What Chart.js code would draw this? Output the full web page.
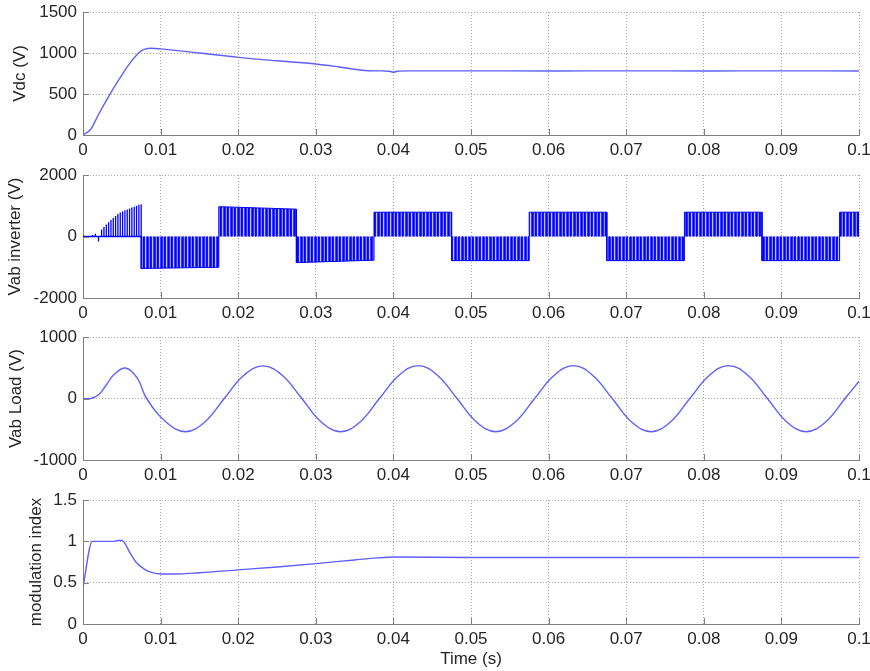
<!DOCTYPE html>
<html>
<head>
<meta charset="utf-8">
<script src="https://cdn.jsdelivr.net/npm/chart.js@4/dist/chart.umd.min.js"></script>
<style>
  body { margin: 0; background: #fff; width: 870px; height: 671px; overflow: hidden; position: relative; }
  canvas { position: absolute; left: 0; }
</style>
</head>
<body>
<canvas id="c1" width="870" height="160"></canvas>
<canvas id="c2" width="870" height="160"></canvas>
<canvas id="c3" width="870" height="160"></canvas>
<canvas id="c4" width="870" height="180"></canvas>
<script>
// time axis ticks (s)
const timeTicks = [0, 0.01, 0.02, 0.03, 0.04, 0.05, 0.06, 0.07, 0.08, 0.09, 0.1];

// Vdc (V)
const vdcT = [0, 0.001, 0.002, 0.003, 0.004, 0.005, 0.006, 0.007, 0.0075, 0.008, 0.0087, 0.01, 0.015, 0.02, 0.025, 0.03, 0.033, 0.036, 0.038, 0.0395, 0.04, 0.0405, 0.042, 0.05, 0.06, 0.07, 0.08, 0.09, 0.1];
const vdcV = [0, 70, 250, 420, 580, 730, 870, 985, 1025, 1048, 1058, 1050, 1000, 947, 905, 866, 830, 790, 782, 778, 765, 778, 782, 782, 781, 782, 781, 782, 781];

// Vab inverter (V): start-up pulses, then half-cycle PWM blocks
const spikeT = [0.0008, 0.0012, 0.0016, 0.002, 0.0024, 0.0027, 0.003, 0.0033, 0.0036, 0.0039, 0.0042, 0.0045, 0.0048, 0.0051, 0.0054, 0.0057, 0.006, 0.0063, 0.0066, 0.0069, 0.0072, 0.0075];
const spikeV = [20, 50, 90, -160, 230, 310, 390, 460, 540, 610, 670, 730, 780, 820, 850, 880, 910, 940, 970, 1000, 1030, 1050];
const blockStart = [0.0075, 0.0175, 0.0275, 0.0375, 0.0475, 0.0575, 0.0675, 0.0775, 0.0875, 0.0975];
const blockEnd = [0.0175, 0.0275, 0.0375, 0.0475, 0.0575, 0.0675, 0.0775, 0.0875, 0.0975, 0.1];
const blockFrom = [-1040, 970, -850, 790, -785, 790, -785, 790, -785, 790];
const blockTo = [-1000, 890, -770, 790, -785, 790, -785, 790, -785, 790];

// Vab Load (V)
const loadT = [0, 0.001, 0.002, 0.003, 0.004, 0.0055, 0.007, 0.0082, 0.0107, 0.0132, 0.0157, 0.0182, 0.0207, 0.0232, 0.0257, 0.0282, 0.0307, 0.0332, 0.0357, 0.0382, 0.0407, 0.0432, 0.0457, 0.0482, 0.0507, 0.0532, 0.0557, 0.0582, 0.0607, 0.0632, 0.0657, 0.0682, 0.0707, 0.0732, 0.0757, 0.0782, 0.0807, 0.0832, 0.0857, 0.0882, 0.0907, 0.0932, 0.0957, 0.0982, 0.1];
const loadV = [0, 0, 60, 220, 390, 495, 330, 0, -382, -540, -382, 0, 375, 530, 375, 0, -382, -540, -382, 0, 375, 535, 375, 0, -382, -540, -382, 0, 375, 535, 375, 0, -382, -540, -382, 0, 375, 535, 375, 0, -382, -540, -382, 0, 280];

// modulation index
const miT = [0, 0.0012, 0.002, 0.003, 0.004, 0.0045, 0.005, 0.0053, 0.006, 0.0069, 0.0078, 0.0086, 0.01, 0.012, 0.015, 0.02, 0.025, 0.03, 0.035, 0.038, 0.04, 0.05, 0.06, 0.07, 0.08, 0.09, 0.1];
const miV = [0.45, 1.0, 1.0, 1.0, 1.0, 1.01, 1.01, 0.99, 0.87, 0.74, 0.67, 0.63, 0.605, 0.605, 0.62, 0.655, 0.69, 0.73, 0.775, 0.8, 0.81, 0.805, 0.805, 0.805, 0.805, 0.805, 0.805];

const FONT = { family: '"Liberation Sans", Arial, sans-serif', size: 17 };
const TEXT = "#262626";
const AXIS = "#7f7f7f";
const GRID = "#a8a8a8";
const LINE = "rgb(95,95,255)";

function pts(xs, ys) {
  return xs.map((x, i) => ({ x: x, y: ys[i] }));
}

// ticks drawn inside the axes, matlab style
const inTicks = {
  id: "inTicks",
  afterDraw(chart) {
    const { ctx, chartArea: a, scales: { x, y } } = chart;
    ctx.save();
    ctx.strokeStyle = AXIS;
    ctx.lineWidth = 1;
    ctx.beginPath();
    x.ticks.forEach(t => {
      const px = Math.round(x.getPixelForValue(t.value)) + 0.5;
      ctx.moveTo(px, a.bottom);
      ctx.lineTo(px, a.bottom - 6);
    });
    y.ticks.forEach(t => {
      const py = Math.round(y.getPixelForValue(t.value)) + 0.5;
      ctx.moveTo(a.left, py);
      ctx.lineTo(a.left + 6, py);
    });
    ctx.stroke();
    ctx.restore();
  }
};

function stripes() {
  const c = document.createElement("canvas");
  c.width = 7; c.height = 1;
  const g = c.getContext("2d");
  ["#0000ff", "#2a2aff", "#8c8cff", "#0000ff", "#1414ff", "#c4c4ff", "#3a3aff"].forEach((col, i) => {
    g.fillStyle = col;
    g.fillRect(i, 0, 1, 1);
  });
  return g.createPattern(c, "repeat");
}

function makePanel(id, top, bottom, datasets, y, xTitle) {
  const xH = xTitle ? 46 : 26;
  const el = document.getElementById(id);
  el.style.top = (top - 11) + "px";
  el.height = 11 + (bottom - top) + xH;
  return new Chart(el, {
    type: "line",
    data: { datasets: datasets },
    options: {
      responsive: false,
      animation: false,
      layout: { padding: { top: 11, right: 11, left: 0, bottom: 0 } },
      plugins: { legend: { display: false }, tooltip: { enabled: false } },
      elements: { point: { radius: 0 } },
      scales: {
        x: {
          type: "linear", min: 0, max: 0.1,
          afterBuildTicks: s => { s.ticks = timeTicks.map(v => ({ value: v })); },
          afterFit: s => { s.height = xH; s.paddingLeft = 0; s.paddingRight = 0; },
          ticks: { font: FONT, color: TEXT, padding: 5, maxRotation: 0, autoSkip: false,
                   callback: v => String(+v.toFixed(2)) },
          grid: { color: GRID, drawTicks: false },
          border: { color: AXIS, width: 1, dash: [1, 2] },
          title: { display: !!xTitle, text: xTitle || "", font: FONT, color: TEXT, padding: { top: 0, bottom: 0 } }
        },
        y: {
          min: y.min, max: y.max,
          afterFit: s => { s.width = 83; s.paddingTop = 0; s.paddingBottom = 0; },
          ticks: { stepSize: y.step, font: FONT, color: TEXT, padding: 6, callback: v => String(v) },
          grid: { color: GRID, drawTicks: false },
          border: { color: AXIS, width: 1, dash: [1, 2] },
          title: { display: true, text: y.title, font: FONT, color: TEXT, padding: { top: y.pad, bottom: 0 } }
        }
      }
    },
    plugins: [inTicks]
  });
}

// panel 1: Vdc
makePanel("c1", 12, 135, [{
  data: pts(vdcT, vdcV), borderColor: LINE, borderWidth: 1.4, cubicInterpolationMode: "monotone"
}], { min: 0, max: 1500, step: 500, title: "Vdc (V)", pad: 10 });

// panel 2: Vab inverter
const blockPts = [];
blockStart.forEach((s, i) => {
  blockPts.push({ x: s, y: 0 }, { x: s, y: blockFrom[i] }, { x: blockEnd[i], y: blockTo[i] }, { x: blockEnd[i], y: 0 });
});
const spikePts = [{ x: 0, y: 0 }];
spikeT.forEach((t, i) => {
  spikePts.push({ x: t, y: 0 }, { x: t, y: spikeV[i] }, { x: t, y: 0 });
});
spikePts.push({ x: blockStart[0], y: 0 });
makePanel("c2", 175, 298, [
  { data: blockPts, borderColor: "#0000ff", borderWidth: 1, tension: 0, fill: "origin", backgroundColor: stripes() },
  { data: spikePts, borderColor: "#0000ff", borderWidth: 1.3, tension: 0, fill: false }
], { min: -2000, max: 2000, step: 2000, title: "Vab inverter (V)", pad: 5 });

// panel 3: Vab Load
makePanel("c3", 337, 460, [{
  data: pts(loadT, loadV), borderColor: LINE, borderWidth: 1.4, tension: 0.4
}], { min: -1000, max: 1000, step: 1000, title: "Vab Load (V)", pad: 6 });

// panel 4: modulation index
makePanel("c4", 500, 624, [{
  data: pts(miT, miV), borderColor: LINE, borderWidth: 1.4, cubicInterpolationMode: "monotone"
}], { min: 0, max: 1.5, step: 0.5, title: "modulation index", pad: 26 }, "Time (s)");
</script>
</body>
</html>
